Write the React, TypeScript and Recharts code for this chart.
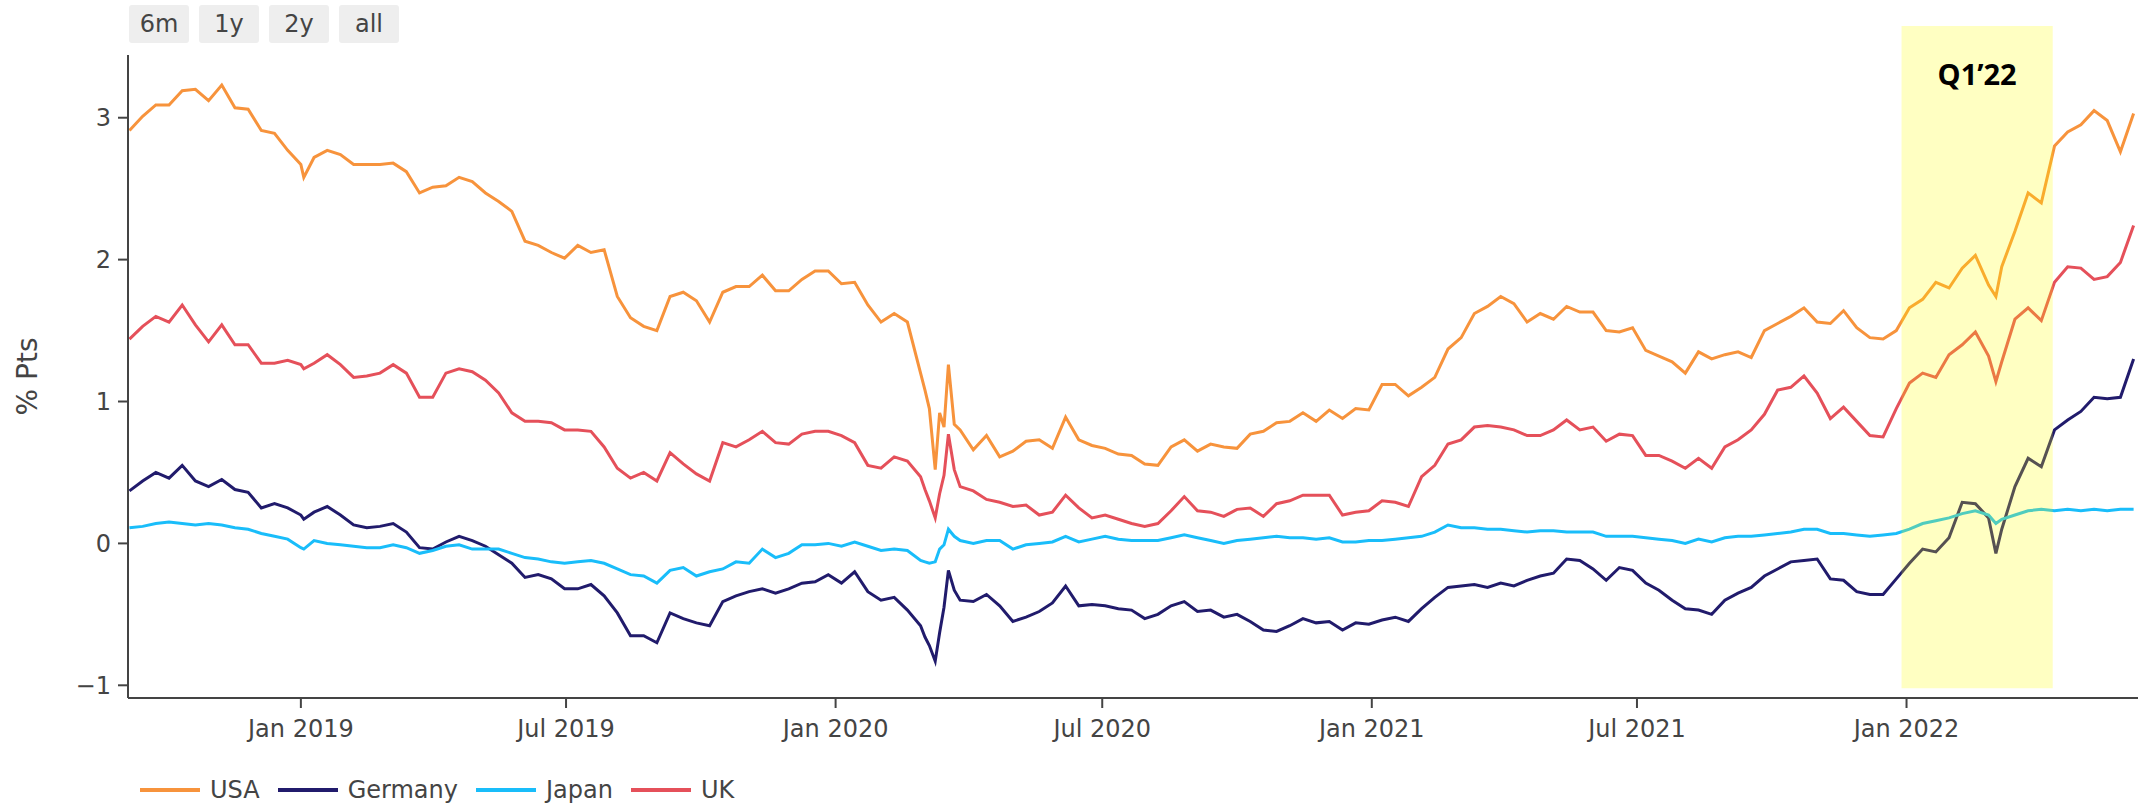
import { LineChart, Line, XAxis, YAxis, ReferenceArea, Label } from 'recharts';

// Days counted from 1 Jan 2019
const DAYS = [
  -117, -108, -99, -90, -81, -72, -63, -54, -45, -36, -27, -18, -9, 0, 2, 9, 18, 27, 36, 45, 54, 63, 72, 81, 90, 99, 108, 117, 126, 135, 144, 153,
  162, 171, 180, 189, 198, 207, 216, 225, 234, 243, 252, 261, 270, 279, 288, 297, 306, 315, 324, 333, 342, 351, 360, 369, 378, 387, 396, 405, 414,
  423, 426, 429, 433, 436, 439, 442, 446, 450,
  459, 468, 477, 486, 495, 504, 513, 522, 531, 540, 549, 558, 567, 576, 585, 594, 603, 612, 621, 630, 639, 648, 657, 666, 675, 684, 693,
  702, 711, 720, 729, 738, 747, 756, 765, 774, 783, 792, 801, 810, 819, 828, 837, 846, 855, 864, 873, 882, 891, 900, 909, 918, 927, 936, 945, 954, 963, 972,
  981, 990, 999, 1008, 1017, 1026, 1035, 1044, 1053, 1062, 1071, 1080, 1089, 1098, 1107, 1116, 1125, 1134, 1143, 1152, 1157, 1161, 1170, 1179, 1188, 1197, 1206, 1215, 1224, 1233, 1242, 1251,
];

const USA = [
  2.91, 3.01, 3.09, 3.09, 3.19, 3.2, 3.12, 3.23, 3.07, 3.06, 2.91, 2.89, 2.77, 2.67, 2.58, 2.72, 2.77, 2.74, 2.67, 2.67, 2.67, 2.68, 2.62, 2.47, 2.51, 2.52, 2.58, 2.55, 2.47, 2.41, 2.34, 2.13,
  2.1, 2.05, 2.01, 2.1, 2.05, 2.07, 1.74, 1.59, 1.53, 1.5, 1.74, 1.77, 1.71, 1.56, 1.77, 1.81, 1.81, 1.89, 1.78, 1.78, 1.86, 1.92, 1.92, 1.83, 1.84, 1.68, 1.56, 1.62, 1.56,
  1.2, 1.08, 0.95, 0.52, 0.92, 0.82, 1.26, 0.84, 0.8,
  0.66, 0.76, 0.61, 0.65, 0.72, 0.73, 0.67, 0.89, 0.73, 0.69, 0.67, 0.63, 0.62, 0.56, 0.55, 0.68, 0.73, 0.65, 0.7, 0.68, 0.67, 0.77, 0.79, 0.85, 0.86, 0.92, 0.86,
  0.94, 0.88, 0.95, 0.94, 1.12, 1.12, 1.04, 1.1, 1.17, 1.37, 1.45, 1.62, 1.67, 1.74, 1.69, 1.56, 1.62, 1.58, 1.67, 1.63, 1.63, 1.5, 1.49, 1.52, 1.36, 1.32, 1.28, 1.2, 1.35, 1.3, 1.33,
  1.35, 1.31, 1.5, 1.55, 1.6, 1.66, 1.56, 1.55, 1.64, 1.52, 1.45, 1.44, 1.5, 1.66, 1.72, 1.84, 1.8, 1.94, 2.03, 1.82, 1.74, 1.95, 2.2, 2.47, 2.4, 2.8, 2.9, 2.95, 3.05, 2.98, 2.76, 3.03,
];

const GERMANY = [
  0.37, 0.44, 0.5, 0.46, 0.55, 0.44, 0.4, 0.45, 0.38, 0.36, 0.25, 0.28, 0.25, 0.2, 0.17, 0.22, 0.26, 0.2, 0.13, 0.11, 0.12, 0.14, 0.08, -0.03, -0.04, 0.01, 0.05, 0.02, -0.02, -0.08, -0.14, -0.24,
  -0.22, -0.25, -0.32, -0.32, -0.29, -0.37, -0.49, -0.65, -0.65, -0.7, -0.49, -0.53, -0.56, -0.58, -0.41, -0.37, -0.34, -0.32, -0.35, -0.32, -0.28, -0.27, -0.22, -0.28, -0.2, -0.34, -0.4, -0.38, -0.47,
  -0.58, -0.66, -0.72, -0.83, -0.63, -0.45, -0.19, -0.33, -0.4,
  -0.41, -0.36, -0.44, -0.55, -0.52, -0.48, -0.42, -0.3, -0.44, -0.43, -0.44, -0.46, -0.47, -0.53, -0.5, -0.44, -0.41, -0.48, -0.47, -0.52, -0.5, -0.55, -0.61, -0.62, -0.58, -0.53, -0.56,
  -0.55, -0.61, -0.56, -0.57, -0.54, -0.52, -0.55, -0.46, -0.38, -0.31, -0.3, -0.29, -0.31, -0.28, -0.3, -0.26, -0.23, -0.21, -0.11, -0.12, -0.18, -0.26, -0.17, -0.19, -0.28, -0.33, -0.4, -0.46, -0.47, -0.5, -0.4,
  -0.35, -0.31, -0.23, -0.18, -0.13, -0.12, -0.11, -0.25, -0.26, -0.34, -0.36, -0.36, -0.25, -0.14, -0.04, -0.06, 0.04, 0.29, 0.28, 0.18, -0.07, 0.1, 0.4, 0.6, 0.54, 0.8, 0.87, 0.93, 1.03, 1.02, 1.03, 1.3,
];

const JAPAN = [
  0.11, 0.12, 0.14, 0.15, 0.14, 0.13, 0.14, 0.13, 0.11, 0.1, 0.07, 0.05, 0.03, -0.03, -0.04, 0.02, 0.0, -0.01, -0.02, -0.03, -0.03, -0.01, -0.03, -0.07, -0.05, -0.02, -0.01, -0.04, -0.04, -0.04, -0.07, -0.1,
  -0.11, -0.13, -0.14, -0.13, -0.12, -0.14, -0.18, -0.22, -0.23, -0.28, -0.19, -0.17, -0.23, -0.2, -0.18, -0.13, -0.14, -0.04, -0.1, -0.07, -0.01, -0.01, 0.0, -0.02, 0.01, -0.02, -0.05, -0.04, -0.05,
  -0.12, -0.13, -0.14, -0.13, -0.04, -0.01, 0.1, 0.05, 0.02,
  0.0, 0.02, 0.02, -0.04, -0.01, 0.0, 0.01, 0.05, 0.01, 0.03, 0.05, 0.03, 0.02, 0.02, 0.02, 0.04, 0.06, 0.04, 0.02, 0.0, 0.02, 0.03, 0.04, 0.05, 0.04, 0.04, 0.03,
  0.04, 0.01, 0.01, 0.02, 0.02, 0.03, 0.04, 0.05, 0.08, 0.13, 0.11, 0.11, 0.1, 0.1, 0.09, 0.08, 0.09, 0.09, 0.08, 0.08, 0.08, 0.05, 0.05, 0.05, 0.04, 0.03, 0.02, 0.0, 0.03, 0.01, 0.04,
  0.05, 0.05, 0.06, 0.07, 0.08, 0.1, 0.1, 0.07, 0.07, 0.06, 0.05, 0.06, 0.07, 0.1, 0.14, 0.16, 0.18, 0.21, 0.23, 0.2, 0.14, 0.17, 0.2, 0.23, 0.24, 0.23, 0.24, 0.23, 0.24, 0.23, 0.24, 0.24,
];

const UK = [
  1.44, 1.53, 1.6, 1.56, 1.68, 1.54, 1.42, 1.54, 1.4, 1.4, 1.27, 1.27, 1.29, 1.26, 1.23, 1.27, 1.33, 1.26, 1.17, 1.18, 1.2, 1.26, 1.2, 1.03, 1.03, 1.2, 1.23, 1.21, 1.15, 1.06, 0.92, 0.86,
  0.86, 0.85, 0.8, 0.8, 0.79, 0.68, 0.53, 0.46, 0.5, 0.44, 0.64, 0.56, 0.49, 0.44, 0.71, 0.68, 0.73, 0.79, 0.71, 0.7, 0.77, 0.79, 0.79, 0.76, 0.71, 0.55, 0.53, 0.61, 0.58,
  0.47, 0.38, 0.3, 0.18, 0.35, 0.48, 0.77, 0.52, 0.4,
  0.37, 0.31, 0.29, 0.26, 0.27, 0.2, 0.22, 0.34, 0.25, 0.18, 0.2, 0.17, 0.14, 0.12, 0.14, 0.23, 0.33, 0.23, 0.22, 0.19, 0.24, 0.25, 0.19, 0.28, 0.3, 0.34, 0.34,
  0.34, 0.2, 0.22, 0.23, 0.3, 0.29, 0.26, 0.47, 0.55, 0.7, 0.73, 0.82, 0.83, 0.82, 0.8, 0.76, 0.76, 0.8, 0.87, 0.8, 0.82, 0.72, 0.77, 0.76, 0.62, 0.62, 0.58, 0.53, 0.6, 0.53, 0.68,
  0.73, 0.8, 0.91, 1.08, 1.1, 1.18, 1.06, 0.88, 0.96, 0.86, 0.76, 0.75, 0.95, 1.13, 1.2, 1.17, 1.33, 1.4, 1.49, 1.32, 1.14, 1.28, 1.58, 1.66, 1.57, 1.84, 1.95, 1.94, 1.86, 1.88, 1.98, 2.24,
];

const TICK_DAYS = [0, 181, 365, 547, 731, 912, 1096];
const TICK_LABELS = ['Jan 2019', 'Jul 2019', 'Jan 2020', 'Jul 2020', 'Jan 2021', 'Jul 2021', 'Jan 2022'];
const Y_TICKS = [-1, 0, 1, 2, 3];
const RANGE_BUTTONS = ['6m', '1y', '2y', 'all'];

// highlighted quarter (days) and its vertical reach
const Q1_START = 1092.6;
const Q1_END = 1195.8;
const Q1_BOTTOM = -1.02;
const Q1_TOP = 3.646;

const SERIES = [
  { key: 'usa', name: 'USA', color: '#f7933c', values: USA },
  { key: 'germany', name: 'Germany', color: '#211b6c', values: GERMANY },
  { key: 'japan', name: 'Japan', color: '#19bdfa', values: JAPAN },
  { key: 'uk', name: 'UK', color: '#e5505a', values: UK },
];

const chartData = DAYS.map((day, i) => {
  const row: Record<string, number> = { day };
  SERIES.forEach(s => {
    row[s.key] = s.values[i];
  });
  return row;
});

const FONT = '"DejaVu Sans", Verdana, sans-serif';
const AXIS_COLOR = '#444';

const fmtY = (v: number) => (v < 0 ? `\u2212${Math.abs(v)}` : `${v}`);
const fmtX = (v: number) => TICK_LABELS[TICK_DAYS.indexOf(v)] ?? '';

export default function App() {
  return (
    <div style={{ position: 'absolute', left: 0, top: 0, width: 2138, height: 807, background: '#fff', fontFamily: FONT }}>
      {/* range selector buttons */}
      <div style={{ position: 'absolute', left: 129, top: 5, display: 'flex', gap: 10 }}>
        {RANGE_BUTTONS.map(b => (
          <div
            key={b}
            style={{
              width: 60,
              height: 38,
              background: '#eeeeee',
              borderRadius: 3,
              color: AXIS_COLOR,
              fontSize: 24,
              lineHeight: '38px',
              textAlign: 'center',
            }}
          >
            {b}
          </div>
        ))}
      </div>

      <LineChart width={2138} height={807} data={chartData} margin={{ top: 55, right: 0, bottom: 0, left: 0 }}>
        <XAxis
          dataKey="day"
          type="number"
          domain={[-118, 1254]}
          allowDataOverflow
          ticks={TICK_DAYS}
          tickFormatter={fmtX}
          height={109}
          stroke={AXIS_COLOR}
          strokeWidth={2}
          tickSize={10}
          tickMargin={12}
          tick={{ fill: AXIS_COLOR, fontSize: 24, fontFamily: FONT }}
        />
        <YAxis
          type="number"
          domain={[-1.0895, 3.442]}
          allowDataOverflow
          ticks={Y_TICKS}
          tickFormatter={fmtY}
          width={128}
          stroke={AXIS_COLOR}
          strokeWidth={2}
          tickSize={10}
          tickMargin={7}
          tick={{ fill: AXIS_COLOR, fontSize: 24, fontFamily: FONT }}
        >
          <Label
            content={(props: any) => {
              const vb = props.viewBox || {};
              const x = vb.x + 37;
              const y = vb.y + vb.height / 2;
              return (
                <text
                  x={x}
                  y={y}
                  transform={`rotate(-90, ${x}, ${y})`}
                  textAnchor="middle"
                  fill={AXIS_COLOR}
                  fontSize={28}
                  fontFamily={FONT}
                >
                  % Pts
                </text>
              );
            }}
          />
        </YAxis>
        {SERIES.map(s => (
          <Line
            key={s.key}
            dataKey={s.key}
            name={s.name}
            type="linear"
            stroke={s.color}
            strokeWidth={3}
            dot={false}
            isAnimationActive={false}
          />
        ))}
        <ReferenceArea
          x1={Q1_START}
          x2={Q1_END}
          y1={Q1_BOTTOM}
          y2={Q1_TOP}
          ifOverflow="visible"
          fill="#ffff00"
          fillOpacity={0.24}
          stroke="none"
          zIndex={450}
          label={{
            value: 'Q1\u201922',
            position: 'insideTop',
            offset: 38,
            fill: '#000',
            fontSize: 29,
            fontWeight: 700,
            fontFamily: '"Open Sans", sans-serif',
          }}
        />
      </LineChart>

      {/* legend */}
      <div style={{ position: 'absolute', left: 140, top: 776, display: 'flex', alignItems: 'center', fontSize: 24, color: AXIS_COLOR, lineHeight: '28px' }}>
        {SERIES.map(s => (
          <div key={s.key} style={{ display: 'flex', alignItems: 'center', marginRight: 18 }}>
            <div style={{ width: 60, height: 4, background: s.color, marginRight: 10 }} />
            <span>{s.name}</span>
          </div>
        ))}
      </div>
    </div>
  );
}
